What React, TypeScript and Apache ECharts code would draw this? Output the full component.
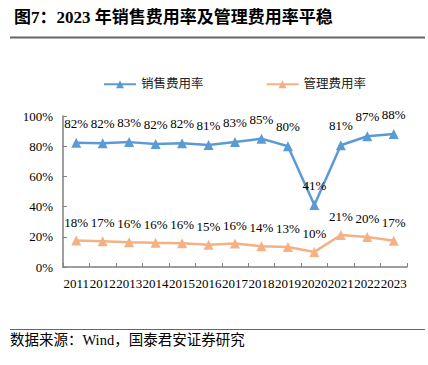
import React, { useEffect, useRef } from "react";
import * as echarts from "echarts";

const years = ["2011", "2012", "2013", "2014", "2015", "2016", "2017", "2018", "2019", "2020", "2021", "2022", "2023"];
const salesRate = [82.3, 82.0, 82.7, 81.5, 82.0, 80.8, 82.8, 85.0, 80.0, 41.0, 80.6, 86.6, 88.0];
const adminRate = [17.5, 17.0, 16.4, 16.0, 15.8, 14.8, 15.5, 13.8, 13.2, 10.0, 21.2, 19.8, 17.4];
const seriesNames = ["销售费用率", "管理费用率"];
const yTicks = [0, 20, 40, 60, 80, 100];

const SERIF = "'Liberation Serif', 'Noto Sans CJK SC', serif";

export default function App() {
  const ref = useRef<HTMLDivElement>(null);
  useEffect(() => {
    const chart = echarts.init(ref.current!, null, { renderer: "svg" });
    const fmt = (p: any) => Math.round(p.value) + "%";
    chart.setOption({
      animation: false,
      backgroundColor: "#ffffff",
      title: {
        text: "图7：2023 年销售费用率及管理费用率平稳",
        left: 9,
        top: 4,
        textStyle: { fontFamily: SERIF, fontSize: 17, fontWeight: "bold", color: "#000" },
      },
      legend: {
        data: seriesNames,
        left: 98,
        top: 73,
        itemGap: 62,
        itemWidth: 32,
        itemHeight: 10,
        textStyle: { fontFamily: SERIF, fontSize: 12.5, color: "#222" },
      },
      grid: { left: 63, right: 21, top: 116, bottom: 98, containLabel: false },
      xAxis: {
        type: "category",
        data: years,
        boundaryGap: true,
        axisLine: { lineStyle: { color: "#7f7f7f", width: 1.5 } },
        axisTick: { show: true, inside: true, length: 4, lineStyle: { color: "#7f7f7f" } },
        axisLabel: { interval: 0, fontFamily: SERIF, fontSize: 13, color: "#000", margin: 10 },
      },
      yAxis: {
        type: "value",
        min: yTicks[0],
        max: yTicks[yTicks.length - 1],
        interval: 20,
        splitLine: { show: false },
        axisLine: { show: true, lineStyle: { color: "#7f7f7f", width: 1.5 } },
        axisTick: { show: true, inside: true, length: 4, lineStyle: { color: "#7f7f7f" } },
        axisLabel: { formatter: "{value}%", fontFamily: SERIF, fontSize: 13, color: "#000", margin: 10 },
      },
      series: [
        {
          name: seriesNames[0],
          type: "line",
          data: salesRate,
          symbol: "triangle",
          symbolSize: 10,
          lineStyle: { color: "#5b9bd5", width: 2.5 },
          itemStyle: { color: "#5b9bd5" },
          label: {
            show: true,
            position: "top",
            distance: 8,
            formatter: fmt,
            fontFamily: SERIF,
            fontSize: 13,
            color: "#000",
          },
        },
        {
          name: seriesNames[1],
          type: "line",
          data: adminRate,
          symbol: "triangle",
          symbolSize: 10,
          lineStyle: { color: "#f4b183", width: 2.5 },
          itemStyle: { color: "#f4b183" },
          label: {
            show: true,
            position: "top",
            distance: 7,
            formatter: fmt,
            fontFamily: SERIF,
            fontSize: 13,
            color: "#000",
          },
        },
      ],
      graphic: [
        { type: "line", shape: { x1: 10, y1: 37.5, x2: 425, y2: 37.5 }, style: { stroke: "#666", lineWidth: 2 } },
        { type: "line", shape: { x1: 10, y1: 329.5, x2: 425, y2: 329.5 }, style: { stroke: "#666", lineWidth: 1.2 } },
        {
          type: "text",
          x: 10,
          y: 333,
          style: { text: "数据来源：Wind，国泰君安证券研究", fontFamily: SERIF, fontSize: 14.5, fill: "#000" },
        },
      ],
    });
    return () => chart.dispose();
  }, []);
  return <div ref={ref} style={{ position: "fixed", left: 0, top: 0, width: 428, height: 365 }} />;
}
